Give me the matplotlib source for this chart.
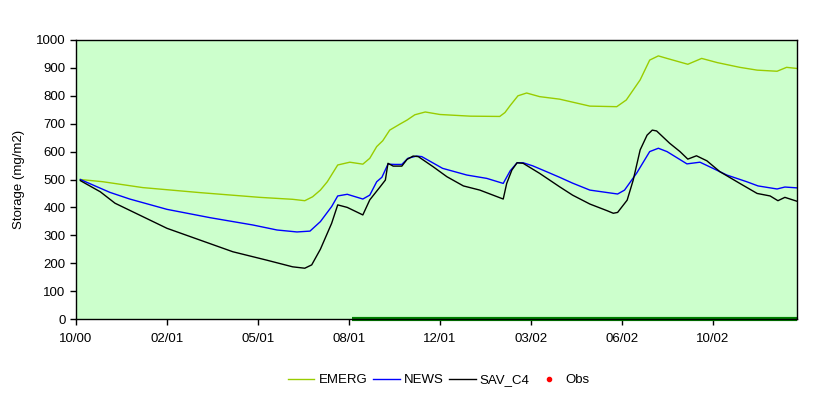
import matplotlib
matplotlib.use('Agg')
import matplotlib.pyplot as plt

plt.rcParams['font.family'] = ['Liberation Sans', 'DejaVu Sans']

# === Data (x = days from start of record, y = storage mg/m2) ===
emerg_day = [5, 31, 77, 143, 212, 250, 264, 273, 282, 290, 302, 316, 331, 339, 347,
             354, 362, 374, 382, 391, 403, 420, 455, 489, 495, 501, 510, 520, 535,
             558, 593, 624, 635, 651, 662, 672, 682, 706, 722, 740, 766, 786, 809,
             820, 832]
emerg_val = [500, 492, 471, 453, 436, 429, 424, 438, 462, 492, 552, 562, 555, 576, 618,
             639, 677, 699, 713, 732, 742, 733, 727, 726, 740, 765, 800, 810, 797,
             788, 763, 761, 785, 857, 928, 943, 934, 913, 934, 919, 902, 892, 888,
             902, 898]

news_day = [5, 39, 62, 105, 155, 204, 232, 255, 270, 282, 295, 302, 313, 331, 339,
            347, 353, 360, 368, 376, 383, 393, 399, 423, 451, 474, 493, 501, 509,
            516, 527, 543, 558, 573, 593, 625, 633, 647, 662, 672, 682, 705, 720,
            735, 751, 774, 787, 809, 818, 832]
news_val = [500, 454, 430, 393, 363, 337, 319, 312, 315, 349, 403, 441, 447, 430, 444,
            492, 508, 555, 554, 554, 576, 584, 582, 540, 516, 504, 486, 531, 560,
            560, 549, 528, 508, 487, 462, 448, 462, 523, 600, 612, 600, 556, 562,
            540, 516, 492, 477, 466, 473, 470]

sav_day = [5, 28, 45, 77, 105, 143, 181, 220, 250, 264, 272, 282, 295, 302, 313,
           331, 339, 351, 357, 360, 366, 376, 382, 389, 395, 412, 428, 447, 466,
           493, 497, 503, 509, 516, 535, 558, 573, 593, 613, 620, 625, 636, 643,
           651, 659, 665, 670, 685, 697, 706, 716, 728, 743, 766, 786, 801, 810,
           818, 832]
sav_val = [496, 456, 415, 367, 325, 283, 241, 211, 187, 182, 194, 250, 343, 409, 400,
           373, 427, 474, 498, 558, 548, 548, 572, 584, 582, 546, 510, 477, 462,
           430, 486, 534, 560, 558, 522, 474, 444, 412, 388, 379, 382, 426, 498,
           606, 659, 677, 674, 630, 600, 573, 585, 567, 528, 486, 450, 441, 424,
           436, 422]

obs_day = [318, 832]
obs_val = [0, 0]

tick_days = [0, 105, 210, 315, 420, 525, 630, 735]
tick_labels = ["10/00", "02/01", "05/01", "08/01", "12/01", "03/02", "06/02", "10/02"]

# === Plot ===
fig = plt.figure(figsize=(8.32, 3.99), dpi=100)
ax = fig.add_axes([76 / 832, 80 / 399, 721 / 832, 279 / 399])
ax.set_facecolor('#CCFFCC')

ax.plot(obs_day, obs_val, color='#008000', lw=3, solid_capstyle='butt', clip_on=False)
ax.plot(emerg_day, emerg_val, color='#99CC00', lw=1, label='EMERG')
ax.plot(news_day, news_val, color='#0000FF', lw=1, label='NEWS')
ax.plot(sav_day, sav_val, color='black', lw=1, label='SAV_C4')
ax.plot([], [], ls='none', marker='o', ms=3, color='red', label='Obs')

ax.set_xlim(0, 832)
ax.set_ylim(0, 1000)
ax.set_yticks(range(0, 1001, 100))
ax.set_xticks(tick_days)
ax.set_xticklabels(tick_labels)
ax.tick_params(direction='out', length=4, width=1, labelsize=9.5, colors='black')
ax.tick_params(axis='x', pad=6)
for s in ax.spines.values():
    s.set_linewidth(1)
ax.set_ylabel("Storage (mg/m2)", fontsize=9.5, labelpad=8)

fig.legend(loc='center', bbox_to_anchor=(439 / 832, 1 - 380 / 399), ncol=4,
           frameon=False, fontsize=9.5, handlelength=2.0, columnspacing=0.45,
           handletextpad=0.3)

plt.savefig('out.png', dpi=100)
plt.close()
